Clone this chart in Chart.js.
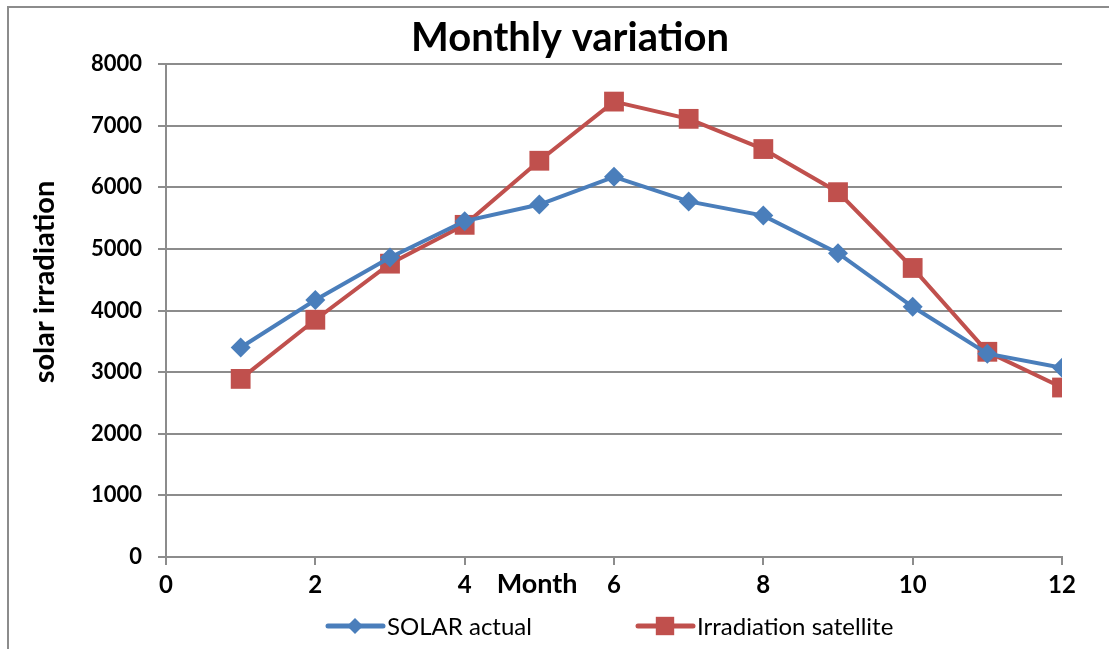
<!DOCTYPE html>
<html>
<head>
<meta charset="utf-8">
<script src="https://cdn.jsdelivr.net/npm/chart.js@4"></script>
<style>
  html, body { margin: 0; padding: 0; background: #fff; }
  #wrap { width: 1109px; height: 649px; position: relative; }
</style>
</head>
<body>
<div id="wrap"><canvas id="monthlyChart" width="1109" height="649"></canvas></div>
<script>
// ===== Data =====
const months = [1, 2, 3, 4, 5, 6, 7, 8, 9, 10, 11, 12];
const solarActual = [3400, 4170, 4860, 5450, 5720, 6170, 5770, 5540, 4930, 4060, 3300, 3070];
const irradiationSatellite = [2890, 3850, 4760, 5390, 6430, 7390, 7110, 6620, 5920, 4690, 3330, 2750];
const seriesNames = ['SOLAR actual', 'Irradiation satellite'];

const BLUE = '#4a7ebb';
const RED = '#c0504d';
const GRID = '#8c8c8c';
const FONT = 'Lato, "Open Sans", sans-serif';

// frame, titles and legend drawn by hand (Excel style)
const decor = {
  id: 'decor',
  beforeDraw(chart) {
    const ctx = chart.ctx;
    ctx.save();
    ctx.strokeStyle = '#8c8c8c';
    ctx.lineWidth = 2;
    ctx.strokeRect(8, 7, 1200, 700);
    ctx.restore();
  },
  afterDraw(chart) {
    const ctx = chart.ctx;
    const xs = chart.scales.x;
    ctx.save();
    ctx.fillStyle = '#000';
    ctx.textBaseline = 'middle';
    ctx.textAlign = 'center';

    ctx.font = 'bold 40px ' + FONT;
    ctx.fillText('Monthly variation', 570, 38);

    ctx.font = 'bold 27px ' + FONT;
    ctx.fillText('Month', xs.getPixelForValue(4.97), 584);

    ctx.save();
    ctx.translate(45, 282);
    ctx.rotate(-Math.PI / 2);
    ctx.font = 'bold 29px ' + FONT;
    ctx.fillText('solar irradiation', 0, 0);
    ctx.restore();

    // legend
    const items = [
      { x: 328, color: BLUE, style: 'rectRot', r: 8, label: seriesNames[0] },
      { x: 638, color: RED, style: 'rect', r: 13, label: seriesNames[1] }
    ];
    const ly = 626;
    items.forEach(it => {
      ctx.strokeStyle = it.color;
      ctx.lineWidth = 5;
      ctx.lineCap = 'round';
      ctx.beginPath();
      ctx.moveTo(it.x, ly);
      ctx.lineTo(it.x + 55, ly);
      ctx.stroke();
      ctx.fillStyle = it.color;
      Chart.helpers.drawPoint(ctx, { pointStyle: it.style, radius: it.r, rotation: 0, borderWidth: 0 }, it.x + 27, ly);
      ctx.fillStyle = '#000';
      ctx.textAlign = 'left';
      ctx.font = '24px ' + FONT;
      ctx.fillText(it.label, it.x + 59, ly + 1);
    });
    ctx.restore();
  }
};

new Chart(document.getElementById('monthlyChart'), {
  type: 'line',
  data: {
    datasets: [
      {
        label: seriesNames[0],
        data: months.map((m, i) => ({ x: m, y: solarActual[i] })),
        borderColor: BLUE,
        backgroundColor: BLUE,
        borderWidth: 4,
        pointStyle: 'rectRot',
        pointRadius: 10,
        pointBorderWidth: 0,
        tension: 0,
        fill: false
      },
      {
        label: seriesNames[1],
        data: months.map((m, i) => ({ x: m, y: irradiationSatellite[i] })),
        borderColor: RED,
        backgroundColor: RED,
        borderWidth: 4,
        pointStyle: 'rect',
        pointRadius: 14,
        pointBorderWidth: 0,
        tension: 0,
        fill: false
      }
    ]
  },
  options: {
    responsive: false,
    animation: false,
    layout: { padding: { left: 0, top: 64, right: 47, bottom: 0 } },
    plugins: { legend: { display: false }, tooltip: { enabled: false }, title: { display: false } },
    scales: {
      x: {
        type: 'linear',
        min: 0, max: 12,
        afterFit: s => { s.height = 92; },
        ticks: { stepSize: 2, color: '#000', padding: 6, font: { family: FONT, size: 24, weight: 'bold' } },
        grid: { drawOnChartArea: false, drawTicks: true, tickLength: 8, color: GRID, lineWidth: 2 },
        border: { color: GRID, width: 2 }
      },
      y: {
        min: 0, max: 8000,
        afterFit: s => { s.width = 166; },
        ticks: { stepSize: 1000, color: '#000', padding: 16, callback: v => String(v), font: { family: FONT, size: 22, weight: 'bold' } },
        grid: { drawTicks: true, tickLength: 8, color: GRID, lineWidth: 2 },
        border: { color: GRID, width: 2 }
      }
    }
  },
  plugins: [decor]
});
</script>
</body>
</html>
